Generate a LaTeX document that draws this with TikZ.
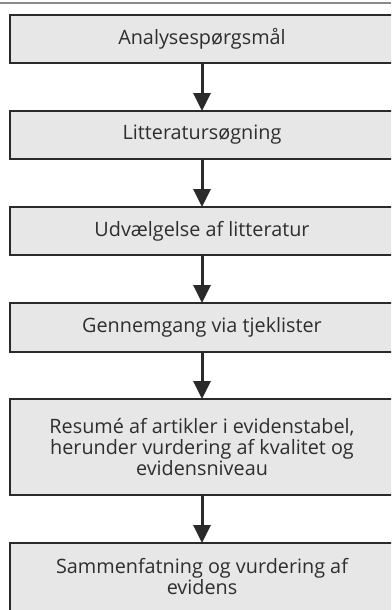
\documentclass[tikz,border=0pt]{standalone}
\usepackage{fontspec}
\setmainfont{Open Sans}
\usetikzlibrary{arrows.meta}
\definecolor{boxfill}{HTML}{E6E7E6}
\definecolor{boxline}{HTML}{2A2A2A}
\definecolor{frameline}{HTML}{8A8A8A}
\definecolor{textgray}{HTML}{2E2E2E}
\tikzset{
  boxfont/.style={font=\fontsize{19.8}{21}\selectfont, text=textgray},
  stepbox/.style={draw=boxline, line width=2.6pt, fill=boxfill, minimum width=384pt,
    inner sep=0pt, outer sep=0pt, align=center, boxfont},
  flowarrow/.style={draw=boxline, line width=3pt, -{Triangle[width=17pt,length=18pt]}}
}
\begin{document}
\begin{tikzpicture}[x=1pt,y=-1pt]
\useasboundingbox (0,0) rectangle (391,610);
\clip (0,0) rectangle (391,610);
\fill[white] (0,0) rectangle (391,610);
\draw[frameline, line width=1.2pt] (0,3) -- (391,3);
\node[stepbox, minimum height=48pt, anchor=north west] (b1) at (10,15) {Analysespørgsmål};
\node[stepbox, minimum height=48pt, anchor=north west] (b2) at (10,111) {Litteratursøgning};
\node[stepbox, minimum height=48pt, anchor=north west] (b3) at (10,207) {Udvælgelse af litteratur};
\node[stepbox, minimum height=49pt, anchor=north west] (b4) at (10,303) {Gennemgang via tjeklister};
\node[stepbox, minimum height=96pt, anchor=north west] (b5) at (10,399) {Resumé af artikler i evidenstabel,\\herunder vurdering af kvalitet og\\evidensniveau};
\node[stepbox, minimum height=100pt, anchor=north west] (b6) at (10,543) {};
\node[align=center, boxfont, inner sep=0pt, anchor=north] (t6) at (b6.north) [yshift=-15pt] {Sammenfatning og vurdering af\\evidens};
\draw[flowarrow] (b1.south) -- (b2.north);
\draw[flowarrow] (b2.south) -- (b3.north);
\draw[flowarrow] (b3.south) -- (b4.north);
\draw[flowarrow] (b4.south) -- (b5.north);
\draw[flowarrow] (b5.south) -- (b6.north);
\end{tikzpicture}
\end{document}
